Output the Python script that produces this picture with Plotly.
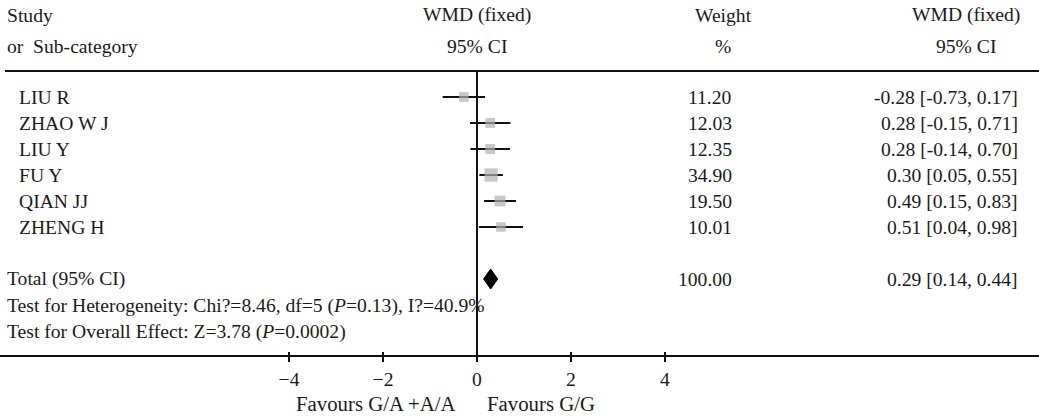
import plotly.graph_objects as go

# ---------------- data ----------------
studies = ["LIU R", "ZHAO W J", "LIU Y", "FU Y", "QIAN JJ", "ZHENG H"]
wmd = [-0.28, 0.28, 0.28, 0.30, 0.49, 0.51]
ci_low = [-0.73, -0.15, -0.14, 0.05, 0.15, 0.04]
ci_high = [0.17, 0.71, 0.70, 0.55, 0.83, 0.98]
weights = [11.20, 12.03, 12.35, 34.90, 19.50, 10.01]

total_label = "Total (95% CI)"
total_wmd = 0.29
total_low = 0.14
total_high = 0.44
total_weight = 100.00

heterogeneity = "Test for Heterogeneity: Chi?=8.46, df=5 (<i>P</i>=0.13), I?=40.9%"
overall = "Test for Overall Effect: Z=3.78 (<i>P</i>=0.0002)"

tick_values = [-4, -2, 0, 2, 4]
favours_left = "Favours G/A +A/A"
favours_right = "Favours G/G"

# ---------------- layout constants ----------------
W, H = 1039, 418
PX_PER_UNIT = 47.0
ZERO_PX = 477.0
FIRST_ROW_PX = 97.0
ROW_H = 26.0

FONT = "Liberation Serif, Times New Roman, serif"
FS = 19.6
FS_FAV = 20.8
TXT = "#1a1a1a"
INK = "#111111"


def row_of(px):
    return (px - FIRST_ROW_PX) / ROW_H


def paper_x(px):
    return px / W


x_range = [-ZERO_PX / PX_PER_UNIT, (W - ZERO_PX) / PX_PER_UNIT]
y_range = [row_of(H), row_of(0)]

study_rows = list(range(len(studies)))
total_row = len(studies) + 1
het_row = total_row + 1.04
overall_row = total_row + 2.05
axis_row = row_of(356)
header1_row = row_of(15)
header2_row = row_of(46)
header_line_row = row_of(71)
favours_row = row_of(403)

fig = go.Figure()

# CI lines
xs, ys = [], []
for r, lo, hi in zip(study_rows, ci_low, ci_high):
    xs += [lo, hi, None]
    ys += [r, r, None]
fig.add_trace(go.Scatter(x=xs, y=ys, mode="lines",
                         line=dict(color=INK, width=2), hoverinfo="skip",
                         showlegend=False))

# weight squares
fig.add_trace(go.Scatter(
    x=wmd, y=study_rows, mode="markers",
    marker=dict(symbol="square", color="#b0b0b0",
                size=[8 + 0.15 * w for w in weights],
                line=dict(width=0)),
    showlegend=False, hoverinfo="skip"))

# total diamond
dh = 10 / ROW_H
fig.add_trace(go.Scatter(
    x=[total_low, total_wmd, total_high, total_wmd, total_low],
    y=[total_row, total_row - dh, total_row, total_row + dh, total_row],
    mode="lines", fill="toself", fillcolor="#000000",
    line=dict(color="#000000", width=1), showlegend=False, hoverinfo="skip"))

# dummy trace for the second (tick) axis
fig.add_trace(go.Scatter(x=[0], y=[axis_row], xaxis="x2", mode="markers",
                         marker=dict(opacity=0), showlegend=False,
                         hoverinfo="skip"))

# vertical line of no effect
fig.add_shape(type="line", xref="x", yref="y", x0=0, x1=0,
              y0=header_line_row, y1=axis_row,
              line=dict(color=INK, width=2))
# header rule
fig.add_shape(type="line", xref="paper", yref="y", x0=paper_x(5), x1=1,
              y0=header_line_row, y1=header_line_row,
              line=dict(color=INK, width=2))

ann = []


def add_text(text, x, y, xanchor="left", xref="paper", size=FS):
    ann.append(dict(text=text, x=x, y=y, xref=xref, yref="y",
                    xanchor=xanchor, yanchor="middle", showarrow=False,
                    font=dict(family=FONT, size=size, color=TXT)))


# headers
add_text("Study", paper_x(5), header1_row)
add_text("or\u00a0\u00a0Sub-category", paper_x(5), header2_row)
add_text("WMD (fixed)", 0, header1_row, "center", "x")
add_text("95% CI", 0, header2_row, "center", "x")
add_text("Weight", paper_x(723), header1_row, "center")
add_text("%", paper_x(723), header2_row, "center")
add_text("WMD (fixed)", paper_x(966), header1_row, "center")
add_text("95% CI", paper_x(966), header2_row, "center")

# study rows
for r, s, w, m, lo, hi in zip(study_rows, studies, weights, wmd, ci_low, ci_high):
    add_text(s, paper_x(17), r)
    add_text(f"{w:.2f}", paper_x(734), r, "right")
    add_text(f"{m:.2f} [{lo:.2f}, {hi:.2f}]", paper_x(1020), r, "right")

# total
add_text(total_label, paper_x(5), total_row)
add_text(f"{total_weight:.2f}", paper_x(734), total_row, "right")
add_text(f"{total_wmd:.2f} [{total_low:.2f}, {total_high:.2f}]",
         paper_x(1020), total_row, "right")
add_text(heterogeneity, paper_x(5), het_row)
add_text(overall, paper_x(5), overall_row)

# favours
add_text(favours_left, paper_x(458), favours_row, "right", size=FS_FAV)
add_text(favours_right, paper_x(485), favours_row, "left", size=FS_FAV)

axis_pos = 1 - 356 / H

fig.update_layout(
    width=W, height=H,
    margin=dict(l=0, r=0, t=0, b=0),
    paper_bgcolor="white", plot_bgcolor="white",
    annotations=ann,
    xaxis=dict(range=x_range, anchor="free", position=axis_pos,
               showline=True, linecolor=INK, linewidth=2,
               ticks="outside", ticklen=5, tickwidth=1.5, tickcolor=INK,
               tickvals=tick_values, showgrid=False, zeroline=False,
               automargin=False,
               tickfont=dict(family=FONT, size=FS, color=TXT)),
    xaxis2=dict(range=x_range, overlaying="x", anchor="free",
                position=axis_pos, side="bottom", automargin=False,
                ticks="inside", ticklen=4, tickwidth=1.5, tickcolor=INK,
                tickvals=tick_values, showticklabels=False,
                showline=False, showgrid=False, zeroline=False),
    yaxis=dict(range=y_range, visible=False, showgrid=False,
               zeroline=False, automargin=False),
    showlegend=False,
)

fig.write_html(
    "out.html",
    config={"displayModeBar": False},
    post_script="document.body.style.margin='0px';"
                "document.body.style.overflow='hidden';",
)
